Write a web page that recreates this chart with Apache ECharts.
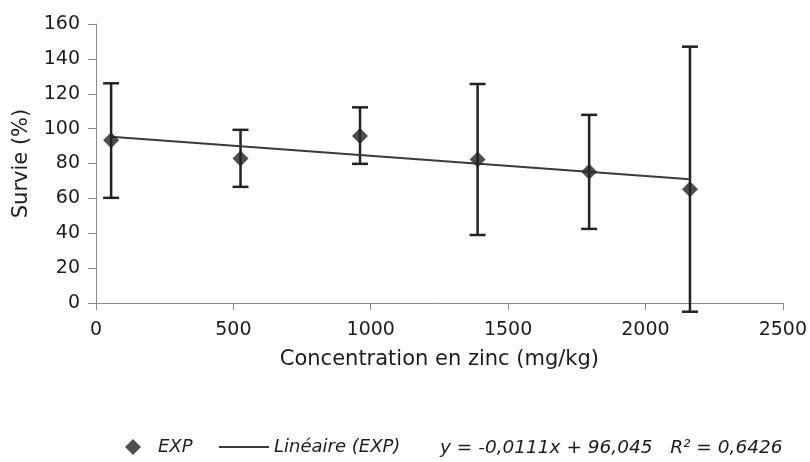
<!DOCTYPE html>
<html>
<head>
<meta charset="utf-8">
<script src="https://cdn.jsdelivr.net/npm/echarts@6/dist/echarts.min.js"></script>
<style>
  html, body { margin: 0; padding: 0; background: #fff; }
  #chart { width: 810px; height: 462px; }
</style>
</head>
<body>
<div id="chart"></div>
<script>
// valeurs
var concZinc = [55, 526, 961, 1389, 1795, 2162];
var survie   = [93.4, 82.9, 95.7, 82.3, 75.2, 65.3];
var errBas   = [60.3, 66.6, 79.8, 39.0, 42.5, -5];
var errHaut  = [126.0, 99.3, 112.2, 125.6, 107.9, 147.0];
var trendX = [55, 2162];
var trendY = [95.3, 71.0];
var xTicks = [0, 500, 1000, 1500, 2000, 2500];
var yTicks = [0, 20, 40, 60, 80, 100, 120, 140, 160];

var FONT = 'DejaVu Sans';
var INK = '#222222';
var TXT = '#1c1c1c';

var pts = [];
var bars = [];
for (var i = 0; i < concZinc.length; i++) {
    pts.push([concZinc[i], survie[i]]);
    bars.push([concZinc[i], errBas[i], errHaut[i]]);
}
var trend = [];
for (var j = 0; j < trendX.length; j++) {
    trend.push([trendX[j], trendY[j]]);
}

var myChart = echarts.init(document.getElementById('chart'));
var option = {
    backgroundColor: '#fff',
    animation: false,
    grid: { left: 96, right: 27, top: 24, bottom: 159 },
    xAxis: {
        type: 'value',
        min: xTicks[0], max: xTicks[xTicks.length - 1], interval: 500,
        name: 'Concentration en zinc (mg/kg)',
        nameLocation: 'middle', nameGap: 46,
        nameTextStyle: { fontFamily: FONT, fontSize: 21, color: TXT },
        axisLine: { lineStyle: { color: '#8a8a8a', width: 1 } },
        axisTick: { show: true, length: 7, lineStyle: { color: '#8a8a8a' } },
        axisLabel: {
            margin: 18, fontFamily: FONT, fontSize: 19, color: TXT,
            formatter: function (v) { return String(v); }
        },
        splitLine: { show: false }
    },
    yAxis: {
        type: 'value',
        min: yTicks[0], max: yTicks[yTicks.length - 1], interval: 20,
        name: 'Survie (%)',
        nameLocation: 'middle', nameGap: 64,
        nameTextStyle: { fontFamily: FONT, fontSize: 21, color: TXT },
        axisLine: { show: true, lineStyle: { color: '#8a8a8a', width: 1 } },
        axisTick: { show: true, length: 8, lineStyle: { color: '#8a8a8a' } },
        axisLabel: { margin: 16, fontFamily: FONT, fontSize: 19, color: TXT },
        splitLine: { show: false }
    },
    legend: [{
        left: 120, top: 433,
        itemWidth: 16, itemHeight: 16, itemGap: 0,
        data: [{ name: 'EXP', icon: 'diamond' }],
        textStyle: { fontFamily: FONT, fontSize: 18, fontStyle: 'italic', color: TXT, padding: [0, 0, 0, 12] }
    }, {
        left: 214, top: 433,
        itemWidth: 50, itemHeight: 16,
        data: [{ name: 'Linéaire (EXP)', icon: 'path://M0,7H50V9H0Z' }],
        textStyle: { fontFamily: FONT, fontSize: 18, fontStyle: 'italic', color: TXT }
    }],
    graphic: [{
        type: 'text', left: 440, top: 439,
        style: {
            text: 'y = -0,0111x + 96,045   R² = 0,6426',
            fontFamily: FONT, fontSize: 18.5, fontStyle: 'italic', fill: TXT
        }
    }],
    series: [{
        name: 'barres',
        type: 'custom',
        clip: false,
        data: bars,
        renderItem: function (params, api) {
            var x = api.value(0);
            var lo = api.coord([x, api.value(1)]);
            var hi = api.coord([x, api.value(2)]);
            var w = 8;
            var st = { stroke: INK, lineWidth: 2.5 };
            return {
                type: 'group',
                children: [
                    { type: 'line', shape: { x1: lo[0], y1: lo[1], x2: hi[0], y2: hi[1] }, style: st },
                    { type: 'line', shape: { x1: hi[0] - w, y1: hi[1], x2: hi[0] + w, y2: hi[1] }, style: st },
                    { type: 'line', shape: { x1: lo[0] - w, y1: lo[1], x2: lo[0] + w, y2: lo[1] }, style: st }
                ]
            };
        },
        z: 2
    }, {
        name: 'Linéaire (EXP)',
        type: 'line',
        data: trend,
        symbol: 'none',
        lineStyle: { color: '#3a3a3a', width: 2 },
        itemStyle: { color: '#3a3a3a' },
        z: 3
    }, {
        name: 'EXP',
        type: 'scatter',
        data: pts,
        symbol: 'diamond',
        symbolSize: [16, 16],
        itemStyle: { color: INK },
        z: 4
    }]
};
myChart.setOption(option);
</script>
</body>
</html>
